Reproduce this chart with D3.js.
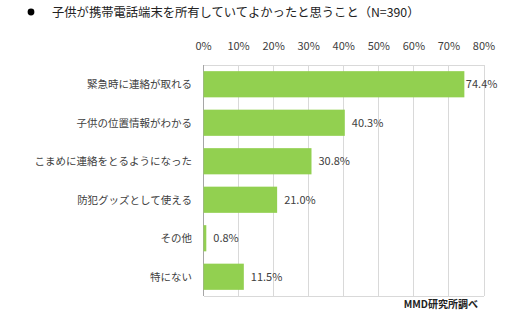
<!DOCTYPE html>
<html><head><meta charset="utf-8">
<script src="https://cdn.jsdelivr.net/npm/d3@7"></script>
<style>body{margin:0;background:#fff;}svg{display:block;font-family:"Noto Sans CJK JP","Noto Sans",sans-serif;}</style>
</head><body>
<svg id="c" width="520" height="322"></svg>
<script>
const title = "子供が携帯電話端末を所有していてよかったと思うこと（N=390）";
const categories = ["緊急時に連絡が取れる","子供の位置情報がわかる","こまめに連絡をとるようになった","防犯グッズとして使える","その他","特にない"];
const values = [74.4, 40.3, 30.8, 21.0, 0.8, 11.5];
const ticks = [0,10,20,30,40,50,60,70,80];
const source = "MMD研究所調べ";

const svg = d3.select("#c");
const L = 203.5, R = 484, T = 65, B = 296;
const x = d3.scaleLinear().domain([0,80]).range([L,R]);
const y = d3.scaleBand().domain(categories).range([T,B]).paddingInner(0.32).paddingOuter(0.16);

// title
svg.append("circle").attr("cx",31).attr("cy",12).attr("r",3.4).attr("fill","#000");
svg.append("text").attr("x",52).attr("y",17).attr("font-size",12.3).attr("fill","#222").text(title);

// gridlines
svg.append("g").selectAll("line").data(ticks).join("line")
  .attr("x1",d=>x(d)).attr("x2",d=>x(d)).attr("y1",T).attr("y2",B)
  .attr("stroke",d=>d===0?"#a6a6a6":"#d9d9d9").attr("stroke-width",1).attr("shape-rendering","crispEdges");
svg.append("line").attr("x1",L).attr("x2",R).attr("y1",T).attr("y2",T).attr("stroke","#d9d9d9").attr("shape-rendering","crispEdges");
svg.append("line").attr("x1",L).attr("x2",R).attr("y1",B).attr("y2",B).attr("stroke","#d9d9d9").attr("shape-rendering","crispEdges");

// top axis labels
svg.append("g").selectAll("text").data(ticks).join("text")
  .attr("x",d=>x(d)).attr("y",50).attr("text-anchor","middle").attr("font-size",11).attr("fill","#404040")
  .text(d=>d+"%");

// bars
svg.append("g").selectAll("rect").data(values).join("rect")
  .attr("x",x(0)).attr("y",(d,i)=>y(categories[i])).attr("width",d=>x(d)-x(0)).attr("height",y.bandwidth())
  .attr("fill","#92d050");

// category labels
svg.append("g").selectAll("text").data(categories).join("text")
  .attr("x",192).attr("y",d=>y(d)+y.bandwidth()/2+4).attr("text-anchor","end").attr("font-size",10.5).attr("fill","#404040")
  .text(d=>d);

// value labels
svg.append("g").selectAll("text").data(values).join("text")
  .attr("x",d=>x(d)+(d>70?1.5:7)).attr("y",(d,i)=>y(categories[i])+y.bandwidth()/2+4)
  .attr("font-size",11).attr("fill","#404040").text(d=>d.toFixed(1)+"%");

// source
svg.append("text").attr("x",478).attr("y",308).attr("text-anchor","end").attr("font-size",10).attr("font-weight","bold").attr("fill","#222").text(source);
</script>
</body></html>
